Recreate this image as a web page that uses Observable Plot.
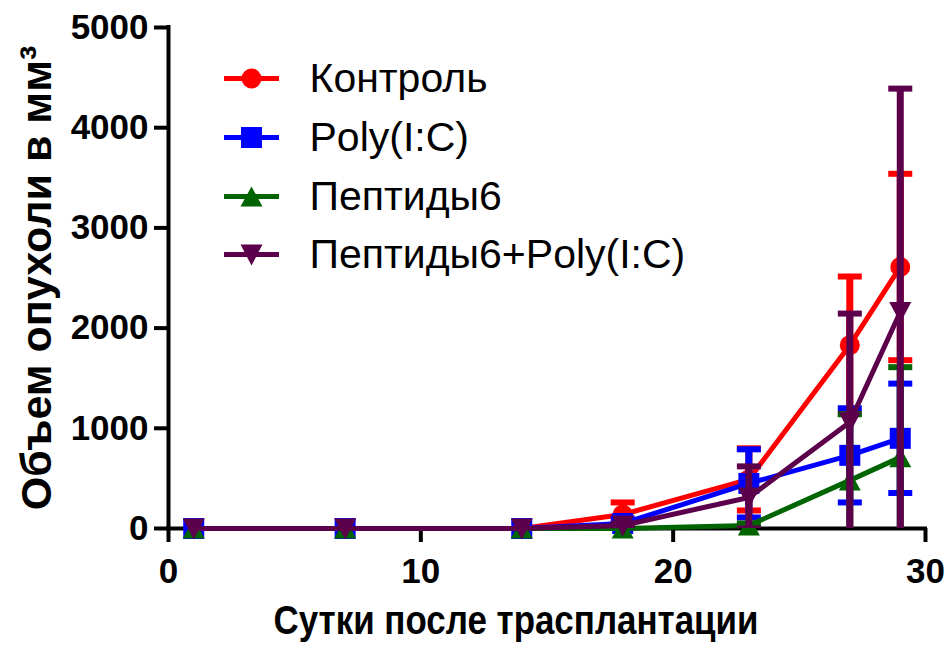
<!DOCTYPE html>
<html>
<head>
<meta charset="utf-8">
<script src="https://cdn.jsdelivr.net/npm/d3@7"></script>
<script src="https://cdn.jsdelivr.net/npm/@observablehq/plot@0.6"></script>
<style>
  html, body { margin: 0; padding: 0; background: #fff; }
  #chart { width: 952px; height: 648px; }
</style>
</head>
<body>
<div id="chart"></div>
<script>
const days = [1, 7, 14, 18, 23, 27, 29];
const seriesNames = ["Контроль", "Poly(I:C)", "Пептиды6", "Пептиды6+Poly(I:C)"];
const controlMean = [0, 0, 0, 140, 490, 1830, 2610];
const controlSem  = [0, 0, 0, 120, 310, 685, 930];
const polyMean    = [0, 0, 0, 50, 450, 730, 900];
const polySem     = [0, 0, 0, 50, 340, 470, 546];
const peptMean    = [0, 0, 0, 0, 30, 480, 710];
const peptSem     = [0, 0, 0, 0, 20, 660, 900];
const comboMean   = [0, 0, 0, 30, 310, 1060, 2160];
const comboSem    = [0, 0, 0, 20, 310, 1085, 2230];
const seriesColors = ["#ff0000", "#0000ff", "#006400", "#5c004c"];
const xTicks = [0, 10, 20, 30];
const yTicks = [0, 1000, 2000, 3000, 4000, 5000];
const xLabel = "Сутки после трасплантации";
const yLabel = "Объем опухоли в мм³";

const means = [controlMean, polyMean, peptMean, comboMean];
const sems = [controlSem, polySem, peptSem, comboSem];

// marker symbols
const symCircle = {draw(c) { c.moveTo(10, 0); c.arc(0, 0, 10, 0, 2 * Math.PI); c.closePath(); }};
const symSquare = {draw(c) { c.rect(-10.5, -10.5, 21, 21); }};
const symUp = {draw(c) { c.moveTo(0, -10); c.lineTo(11, 10); c.lineTo(-11, 10); c.closePath(); }};
const symDown = {draw(c) { c.moveTo(0, 11); c.lineTo(11, -10); c.lineTo(-11, -10); c.closePath(); }};
const symbols = [symCircle, symSquare, symUp, symDown];
const capSym = {draw(c) { c.moveTo(-12, 0); c.lineTo(12, 0); }};
const segSym = {draw(c) { c.moveTo(-27.5, 0); c.lineTo(27.5, 0); }};

const tables = seriesNames.map((name, s) =>
  days.map((d, i) => ({day: d, value: means[s][i], err: sems[s][i], series: name}))
);

const marks = [
  Plot.ruleY([0], {stroke: "black", strokeWidth: 4, strokeLinecap: "square"}),
  Plot.ruleX([0], {stroke: "black", strokeWidth: 4, strokeLinecap: "square"}),
  Plot.axisX({ticks: xTicks, tickSize: 14, tickPadding: 16, fontSize: 35, fontWeight: "bold",
              strokeWidth: 4, label: null, tickFormat: d => String(d)}),
  Plot.axisY({ticks: yTicks, tickSize: 14, tickPadding: 6, fontSize: 35, fontWeight: "bold",
              strokeWidth: 4, label: null, tickFormat: d => String(d)})
];

tables.forEach((rows, s) => {
  const color = seriesColors[s];
  const withErr = rows.filter(r => r.err > 0);
  marks.push(
    Plot.ruleX(withErr, {x: "day", y1: r => r.value - r.err, y2: r => r.value + r.err,
                         stroke: color, strokeWidth: 7, clip: true}),
    Plot.dot(withErr, {x: "day", y: r => r.value + r.err, symbol: capSym, stroke: color,
                       fill: "none", strokeWidth: 6, clip: true}),
    Plot.dot(withErr, {x: "day", y: r => r.value - r.err, symbol: capSym, stroke: color,
                       fill: "none", strokeWidth: 6, clip: true}),
    Plot.line(rows, {x: "day", y: "value", stroke: color, strokeWidth: 5}),
    Plot.dot(rows, {x: "day", y: "value", symbol: symbols[s], fill: color, stroke: "none"})
  );
});

// legend inside the frame
const legendRows = [51, 110, 169, 227];
seriesNames.forEach((name, s) => {
  marks.push(
    Plot.dot([name], {frameAnchor: "top-left", dx: 83, dy: legendRows[s], symbol: segSym,
                      stroke: seriesColors[s], fill: "none", strokeWidth: 5}),
    Plot.dot([name], {frameAnchor: "top-left", dx: 83, dy: legendRows[s], symbol: symbols[s],
                      fill: seriesColors[s], stroke: "none"}),
    Plot.text([name], {frameAnchor: "top-left", dx: 141, dy: legendRows[s], text: d => d,
                       textAnchor: "start", lineAnchor: "middle", fontSize: 41, fill: "black"})
  );
});

// axis titles
marks.push(
  Plot.text([xLabel], {frameAnchor: "bottom", dx: -31, dy: 92, text: d => d, lineAnchor: "middle",
                       textAnchor: "middle", fontSize: 41, fontWeight: "bold", fill: "black"}),
  Plot.text([yLabel], {frameAnchor: "left", dx: -131, text: d => d, rotate: -90, lineAnchor: "middle",
                       textAnchor: "middle", fontSize: 43, fontWeight: "bold", fill: "black"})
);

const chart = Plot.plot({
  width: 952,
  height: 648,
  marginLeft: 168,
  marginRight: 27,
  marginTop: 27,
  marginBottom: 120,
  x: {domain: [0, 30]},
  y: {domain: [0, 5000]},
  style: {fontFamily: "'Liberation Sans', Arial, sans-serif", background: "#fff", color: "black", overflow: "visible"},
  marks
});
// the x title in the original is set in narrower glyphs: fit it to its measured width
for (const t of chart.querySelectorAll("text")) {
  if (t.textContent === xLabel) {
    t.setAttribute("textLength", "485");
    t.setAttribute("lengthAdjust", "spacingAndGlyphs");
  }
}
document.getElementById("chart").appendChild(chart);
</script>
</body>
</html>
